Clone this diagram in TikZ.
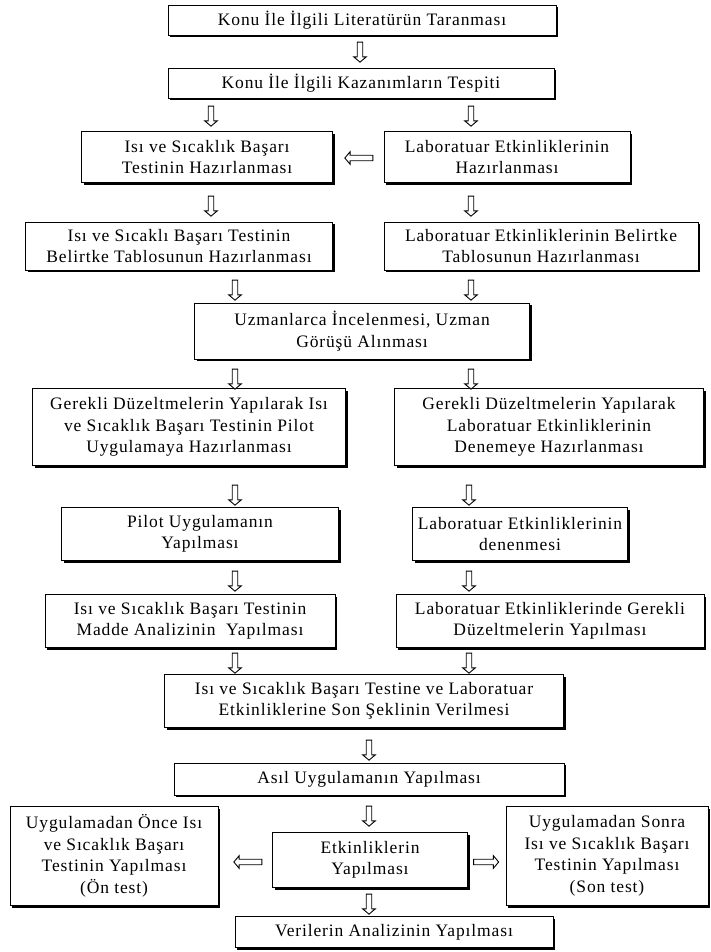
\documentclass[tikz,border=0pt]{standalone}
\usepackage{fontspec}
\setmainfont[LetterSpace=5]{Liberation Serif}
\usepackage{tikz}
\usetikzlibrary{shapes.arrows, shadows}

\begin{document}
\begin{tikzpicture}[
    x=1pt, y=-1pt,
    box/.style={draw, fill=white, rectangle, line width=0.9pt, align=center, inner sep=1pt, font=\fontsize{17.5}{21.5}\selectfont, drop shadow={shadow xshift=2.2pt, shadow yshift=-2.2pt, fill=black, opacity=1}},
    darrow/.style={draw, fill=white, single arrow, shape border rotate=270, line width=0.9pt, inner sep=2.3pt, minimum height=20pt, single arrow head extend=3.6pt, single arrow tip angle=100},
    larrow/.style={darrow, shape border rotate=180, minimum height=28pt},
    rarrow/.style={darrow, shape border rotate=0, minimum height=25pt}
]
    \useasboundingbox (0,0) rectangle (710,952);

    % top of the chain
    \node[box, minimum width=388pt, minimum height=30pt] (lit) at (362,20) {Konu İle İlgili Literatürün Taranması};
    \node[box, minimum width=386pt, minimum height=30pt] (kaz) at (361,83) {Konu İle İlgili Kazanımların Tespiti};
    \node[box, minimum width=251pt, minimum height=51pt] (testhaz) at (207,157) {Isı ve Sıcaklık Başarı\\Testinin Hazırlanması};
    \node[box, minimum width=246pt, minimum height=51pt] (labhaz) at (507,157) {Laboratuar Etkinliklerinin\\Hazırlanması};
    \node[box, minimum width=307pt, minimum height=48pt] (testbel) at (179,246) {Isı ve Sıcaklı Başarı Testinin\\Belirtke Tablosunun Hazırlanması};
    \node[box, minimum width=314pt, minimum height=48pt] (labbel) at (541,246) {Laboratuar Etkinliklerinin Belirtke\\Tablosunun Hazırlanması};
    \node[box, minimum width=335pt, minimum height=56pt] (uzman) at (362,331) {Uzmanlarca İncelenmesi, Uzman\\Görüşü Alınması};

    % two branches
    \node[box, minimum width=313pt, minimum height=77pt] (testpilot) at (189,427) {Gerekli Düzeltmelerin Yapılarak Isı\\ve Sıcaklık Başarı Testinin Pilot\\Uygulamaya Hazırlanması};
    \node[box, minimum width=309pt, minimum height=77pt] (labdeneme) at (549,427) {Gerekli Düzeltmelerin Yapılarak\\Laboratuar Etkinliklerinin\\Denemeye Hazırlanması};
    \node[box, minimum width=277pt, minimum height=53pt] (pilot) at (200,534) {Pilot Uygulamanın\\Yapılması};
    \node[box, minimum width=215pt, minimum height=53pt] (labden) at (520,534) {Laboratuar Etkinliklerinin\\denenmesi};
    \node[box, minimum width=290pt, minimum height=53pt] (madde) at (190,621) {Isı ve Sıcaklık Başarı Testinin\\Madde Analizinin\ \ Yapılması};
    \node[box, minimum width=308pt, minimum height=53pt] (labduz) at (550,621) {Laboratuar Etkinliklerinde Gerekli\\Düzeltmelerin Yapılması};

    % joined again
    \node[box, minimum width=399pt, minimum height=53pt] (sonsekil) at (364,701) {Isı ve Sıcaklık Başarı Testine ve Laboratuar\\Etkinliklerine Son Şeklinin Verilmesi};
    \node[box, minimum width=390pt, minimum height=32pt] (asil) at (369,779) {Asıl Uygulamanın Yapılması};
    \node[box, minimum width=208pt, minimum height=99pt] (ontest) at (114,856) {Uygulamadan Önce Isı\\ve Sıcaklık Başarı\\Testinin Yapılması\\(Ön test)};
    \node[box, minimum width=195pt, minimum height=55pt] (etkin) at (370,860) {Etkinliklerin\\Yapılması};
    \node[box, minimum width=202pt, minimum height=99pt] (sontest) at (607,856) {Uygulamadan Sonra\\Isı ve Sıcaklık Başarı\\Testinin Yapılması\\(Son test)};
    \node[box, minimum width=318pt, minimum height=31pt] (veri) at (394,932) {Verilerin Analizinin Yapılması};

    % hollow arrows
    \node[darrow] (d1) at (360,51) {};
    \node[darrow] (d2) at (211,115) {};
    \node[darrow] (d3) at (471,115) {};
    \node[larrow] (l1) at (360,158) {};
    \node[darrow] (d4) at (211,205) {};
    \node[darrow] (d5) at (471,205) {};
    \node[darrow] (d6) at (235,289) {};
    \node[darrow] (d7) at (471,289) {};
    \node[darrow] (d8) at (235,378) {};
    \node[darrow] (d9) at (471,378) {};
    \node[darrow] (d10) at (235,494) {};
    \node[darrow] (d11) at (469,494) {};
    \node[darrow] (d12) at (235,580) {};
    \node[darrow] (d13) at (469,580) {};
    \node[darrow] (d14) at (235,662) {};
    \node[darrow] (d15) at (469,662) {};
    \node[darrow] (d16) at (369,749) {};
    \node[darrow] (d17) at (369,815) {};
    \node[larrow] (l2) at (249,862) {};
    \node[rarrow] (r1) at (485,862) {};
    \node[darrow] (d18) at (369,903) {};
\end{tikzpicture}
\end{document}
